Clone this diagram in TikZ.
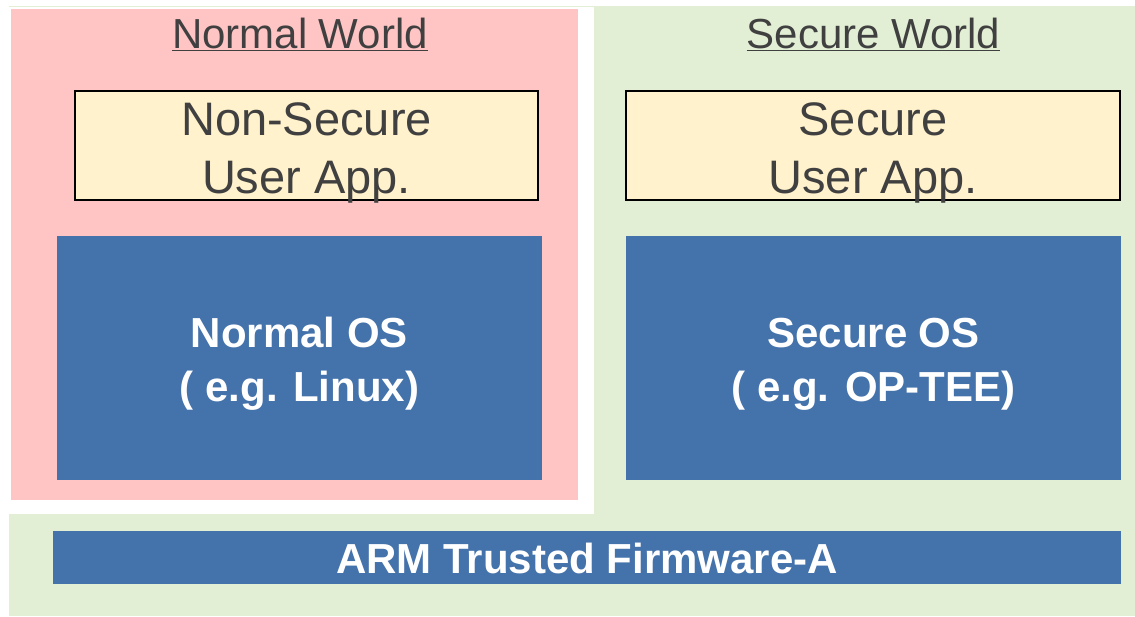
\documentclass[tikz,border=0pt]{standalone}
\usepackage{fontspec}
\setmainfont{Liberation Sans}
\definecolor{normalpink}{HTML}{FFC5C5}
\definecolor{securegreen}{HTML}{E2EFD5}
\definecolor{appyellow}{HTML}{FFF2CC}
\definecolor{osblue}{HTML}{4472AA}
\definecolor{titlegray}{HTML}{404040}
\tikzset{
  worldtitle/.style={anchor=base, inner sep=0, text=titlegray,
    font=\fontsize{42}{50}\selectfont},
  appbox/.style={draw=black, line width=1.6pt, fill=appyellow, inner sep=0},
  apptext/.style={text=titlegray, align=center, inner sep=0,
    font=\fontsize{47}{58}\selectfont},
  osbox/.style={fill=osblue, inner sep=0},
  ostext/.style={text=white, align=center, inner sep=0,
    font=\fontsize{42}{54}\selectfont\bfseries},
}

\begin{document}
\begin{tikzpicture}[x=1pt, y=-1pt]
    \useasboundingbox (0,0) rectangle (1135,616);
    % the two worlds
    \fill[securegreen] (9,6) rectangle (1135,616);
    \fill[white] (9,7) rectangle (594,514);
    \fill[normalpink] (11,9) rectangle (578,500);
    \node[worldtitle] (normaltitle) at (300,48) {\underline{Normal World}};
    \node[worldtitle] (securetitle) at (873.5,48) {\underline{Secure World}};
    % user apps
    \node[appbox, minimum width=463, minimum height=109] (nsapp) at (306.5,145.5) {};
    \node[appbox, minimum width=494, minimum height=109] (sapp) at (873,145.5) {};
    \node[apptext] (nsapptext) at ([yshift=-7pt]nsapp.center) {Non-Secure\\User App.};
    \node[apptext] (sapptext) at ([yshift=-7pt]sapp.center) {Secure\\User App.};
    % operating systems
    \node[osbox, minimum width=485, minimum height=244] (normalos) at (299.5,358) {};
    \node[osbox, minimum width=495, minimum height=244] (secureos) at (873.5,358) {};
    \node[ostext] (normalostext) at ([yshift=-6pt]normalos.center) {Normal OS\\( e.g. Linux)};
    \node[ostext] (secureostext) at ([yshift=-6pt]secureos.center) {Secure OS\\( e.g. OP-TEE)};
    % firmware
    \node[osbox, minimum width=1068, minimum height=53] (atf) at (587,557.5) {};
    \node[ostext] (atftext) at ([yshift=-1pt]atf.center) {ARM Trusted Firmware-A};
  \end{tikzpicture}
\end{document}
